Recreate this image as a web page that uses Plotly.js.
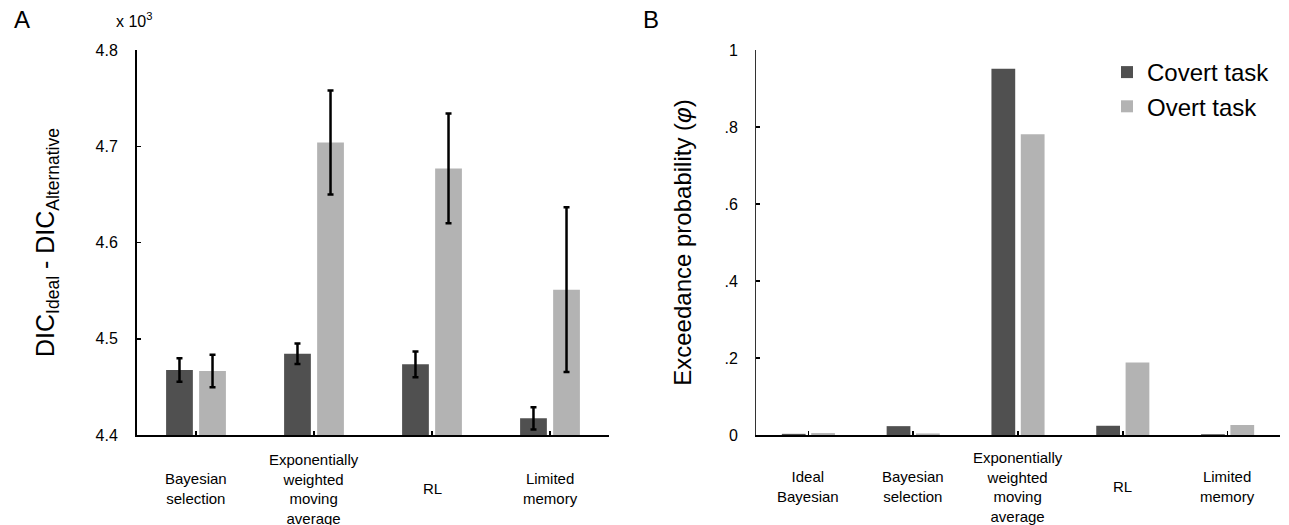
<!DOCTYPE html>
<html>
<head>
<meta charset="utf-8">
<script src="https://cdn.plot.ly/plotly-3.0.1.min.js"></script>
<style>html,body{margin:0;padding:0;background:#fff;}#chart{width:1289px;height:525px;}</style>
</head>
<body>
<div id="chart"></div>
<script>
// ---- Panel A data (values in units of 10^3) ----
const categoriesA = ["Bayesian selection", "Exponentially weighted moving average", "RL", "Limited memory"];
const tickLabelsA = ["Bayesian<br>selection", "Exponentially<br>weighted<br>moving<br>average", "RL", "Limited<br>memory"];
const covertA = [4.4675, 4.4844, 4.4734, 4.4173];
const covertErrA = [0.0123, 0.0106, 0.0133, 0.0116];
const overtA = [4.4665, 4.704, 4.677, 4.551];
const overtErrA = [0.017, 0.054, 0.057, 0.0855];
const yTicksA = [4.4, 4.5, 4.6, 4.7, 4.8];
const yTickTextA = ["4.4", "4.5", "4.6", "4.7", "4.8"];

// ---- Panel B data ----
const categoriesB = ["Ideal Bayesian", "Bayesian selection", "Exponentially weighted moving average", "RL", "Limited memory"];
const tickLabelsB = ["Ideal<br>Bayesian", "Bayesian<br>selection", "Exponentially<br>weighted<br>moving<br>average", "RL", "Limited<br>memory"];
const covertB = [0.003, 0.023, 0.951, 0.024, 0.002];
const overtB = [0.005, 0.004, 0.781, 0.188, 0.026];
const yTicksB = [0, 0.2, 0.4, 0.6, 0.8, 1];
const yTickTextB = ["0", ".2", ".4", ".6", ".8", "1"];

const seriesNames = ["Covert task", "Overt task"];
const seriesColors = ["#505050", "#b3b3b3"];

const FONT = "Liberation Sans, Arial, Helvetica, sans-serif";

const traces = [
  {type: "bar", x: categoriesA, y: covertA, name: seriesNames[0], legendgroup: "c", showlegend: false,
   marker: {color: seriesColors[0], line: {width: 0}}, xaxis: "x", yaxis: "y",
   error_y: {type: "data", array: covertErrA, visible: true, color: "#000", thickness: 2.5, width: 3}},
  {type: "bar", x: categoriesA, y: overtA, name: seriesNames[1], legendgroup: "o", showlegend: false,
   marker: {color: seriesColors[1], line: {width: 0}}, xaxis: "x", yaxis: "y",
   error_y: {type: "data", array: overtErrA, visible: true, color: "#000", thickness: 2.5, width: 3}},
  {type: "bar", x: categoriesB, y: covertB, name: seriesNames[0], legendgroup: "c", showlegend: true,
   marker: {color: seriesColors[0], line: {width: 0}}, xaxis: "x2", yaxis: "y2"},
  {type: "bar", x: categoriesB, y: overtB, name: seriesNames[1], legendgroup: "o", showlegend: true,
   marker: {color: seriesColors[1], line: {width: 0}}, xaxis: "x2", yaxis: "y2"}
];

const W = 1289, H = 525;
const plotTop = 50, plotBottom = 435;
const annotations = [];
categoriesA.forEach((c, i) => annotations.push({
  xref: "x", yref: "paper", x: c, y: -0.14, yanchor: "middle", xanchor: "center",
  text: tickLabelsA[i], showarrow: false, align: "center", font: {family: FONT, size: 15, color: "#000"}
}));
categoriesB.forEach((c, i) => annotations.push({
  xref: "x2", yref: "paper", x: c, y: -0.135, yanchor: "middle", xanchor: "center",
  text: tickLabelsB[i], showarrow: false, align: "center", font: {family: FONT, size: 15, color: "#000"}
}));
annotations.push({xref: "paper", yref: "paper", x: 22 / W, y: (plotBottom - 20) / (plotBottom - plotTop),
  xanchor: "center", yanchor: "middle", text: "A", showarrow: false, font: {family: FONT, size: 24, color: "#000"}});
annotations.push({xref: "paper", yref: "paper", x: 651 / W, y: (plotBottom - 20) / (plotBottom - plotTop),
  xanchor: "center", yanchor: "middle", text: "B", showarrow: false, font: {family: FONT, size: 24, color: "#000"}});
annotations.push({xref: "paper", yref: "paper", x: 114 / W, y: (plotBottom - 20) / (plotBottom - plotTop),
  xanchor: "left", yanchor: "middle", text: "x 10<sup>3</sup>", showarrow: false, font: {family: FONT, size: 16, color: "#000"}});

const layout = {
  width: W, height: H,
  margin: {l: 0, r: 0, t: plotTop, b: H - plotBottom, pad: 0},
  paper_bgcolor: "#fff", plot_bgcolor: "#fff",
  font: {family: FONT, color: "#000"},
  barmode: "group", bargap: 0.44, bargroupgap: 0.19,
  showlegend: true,
  legend: {x: 1107 / W, xanchor: "left", y: 1.0, yanchor: "top", font: {family: FONT, size: 24, color: "#000"},
           bgcolor: "rgba(0,0,0,0)", tracegroupgap: 0},
  xaxis: {domain: [137 / W, 609 / W], type: "category", range: [-0.5, 3.5], showline: true, linecolor: "#000", linewidth: 2,
          ticks: "inside", ticklen: 4, tickwidth: 1.5, tickcolor: "#000", showticklabels: false, showgrid: false, zeroline: false, anchor: "y"},
  yaxis: {domain: [0, 1], range: [4.4, 4.8], showline: true, linecolor: "#000", linewidth: 2, anchor: "x",
          ticks: "inside", ticklen: 4, tickwidth: 1.5, tickcolor: "#000", tickvals: yTicksA, ticktext: yTickTextA,
          tickfont: {family: FONT, size: 16, color: "#000"}, ticklabelstandoff: 14, showgrid: false, zeroline: false,
          title: {text: "DIC<sub>Ideal</sub> - DIC<sub>Alternative</sub>", font: {family: FONT, size: 25, color: "#000"}, standoff: 34}},
  xaxis2: {domain: [756 / W, 1280 / W], type: "category", range: [-0.5, 4.5], showline: true, linecolor: "#000", linewidth: 1.5,
           ticks: "inside", ticklen: 4, tickwidth: 1.5, tickcolor: "#000", showticklabels: false, showgrid: false, zeroline: false, anchor: "y2"},
  yaxis2: {domain: [0, 1], range: [0, 1], showline: true, linecolor: "#333", linewidth: 1, anchor: "x2",
           ticks: "inside", ticklen: 4, tickwidth: 1.5, tickcolor: "#000", tickvals: yTicksB, ticktext: yTickTextB,
           tickfont: {family: FONT, size: 16, color: "#000"}, ticklabelstandoff: 14, showgrid: false, zeroline: false,
           title: {text: "Exceedance probability (<i>φ</i>)", font: {family: FONT, size: 24, color: "#000"}, standoff: 26}},
  annotations: annotations
};

Plotly.newPlot("chart", traces, layout, {staticPlot: true, displayModeBar: false});
</script>
</body>
</html>
